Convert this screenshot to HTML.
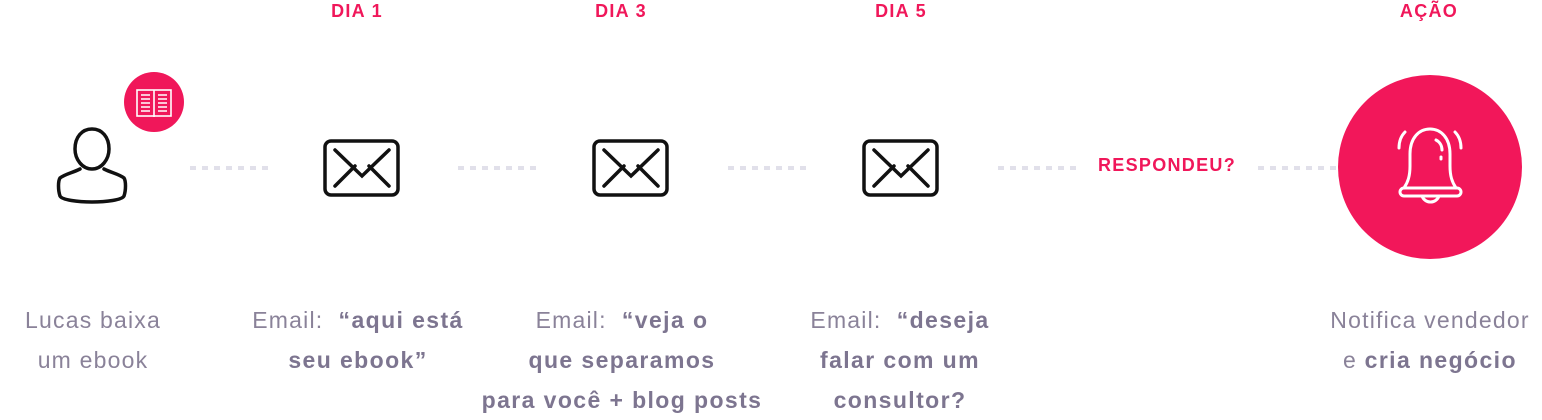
<!DOCTYPE html>
<html><head><meta charset="utf-8"><style>
body{margin:0;width:1542px;height:413px;background:#fff;position:relative;overflow:hidden;font-family:"Liberation Sans",sans-serif}
.h{position:absolute;top:1px;color:#f0175a;font-weight:bold;font-size:18px;letter-spacing:1.3px;transform:translateX(-50%);white-space:nowrap}
.t{position:absolute;top:300px;color:#8a8299;font-size:23px;line-height:40px;text-align:center;transform:translateX(-50%);white-space:nowrap;letter-spacing:1.2px}
.t b{color:#7d7590;letter-spacing:1.4px}
.d{position:absolute;top:166px;height:4px;background:repeating-linear-gradient(90deg,#e1e0ea 0 6px,transparent 6px 12px)}
</style></head><body>
<div class="h" style="left:357px">DIA 1</div>
<div class="h" style="left:621px">DIA 3</div>
<div class="h" style="left:901px">DIA 5</div>
<div class="h" style="left:1429px">AÇÃO</div>
<div class="d" style="left:190px;width:78px"></div>
<div class="d" style="left:458px;width:78px"></div>
<div class="d" style="left:728px;width:78px"></div>
<div class="d" style="left:998px;width:78px"></div>
<div class="d" style="left:1258px;width:78px"></div>
<div class="h" style="left:1167px;top:155px">RESPONDEU?</div>
<svg width="1542" height="413" style="position:absolute;left:0;top:0">
<circle cx="154" cy="102" r="30" fill="#f0175a"/>
<g stroke="#fff" stroke-width="1.6" fill="none"><rect x="137" y="90" width="34" height="26"/><line x1="154" y1="90" x2="154" y2="117"/>
<path d="M141 95h9M141 99h9M141 103h9M141 107h9M141 111h9M158 95h9M158 99h9M158 103h9M158 107h9M158 111h9"/></g>
<g stroke="#111" stroke-width="3.5" fill="none" stroke-linecap="round">
<path d="M92 129c-10 0-17 8-17 20c0 10 7 20 17 20c10 0 17-10 17-20c0-12-7-20-17-20z"/>
<path d="M80 169c-8 4-15 5-20 9c-2 3-2 12 0 18c2 4 18 6 32 6c14 0 30-2 32-6c2-6 2-15 0-18c-5-4-12-5-20-9"/>
</g>
<g stroke="#111" stroke-width="3.5" fill="none" stroke-linecap="round">
<rect x="325" y="141" width="73" height="54" rx="6"/><path d="M335 150l27 26l27-26M335 186l20-20M389 186l-20-20"/>
<rect x="594" y="141" width="73" height="54" rx="6"/><path d="M604 150l27 26l27-26M604 186l20-20M658 186l-20-20"/>
<rect x="864" y="141" width="73" height="54" rx="6"/><path d="M874 150l27 26l27-26M874 186l20-20M928 186l-20-20"/>
</g>
<circle cx="1430" cy="167" r="92" fill="#f2175a"/>
<g stroke="#fff" stroke-width="3" fill="none" stroke-linecap="round">
<path d="M1404 188c4-6 6-12 6-22v-12c0-16 9-25 20-25s20 9 20 25v12c0 10 2 16 6 22"/>
<rect x="1400" y="188" width="61" height="8" rx="4"/>
<path d="M1422 196a9 9 0 0 0 17 0"/>
<path d="M1436 140c4 2 6 6 6 10M1441 157v2"/>
<path d="M1405 132c-4 4-6 9-6 16M1455 132c4 4 6 9 6 16"/>
</g>
</svg>
<div class="t" style="left:93px">Lucas baixa<br>um ebook</div>
<div class="t" style="left:358px">Email:&nbsp; <b>“aqui está<br>seu ebook”</b></div>
<div class="t" style="left:622px">Email:&nbsp; <b>“veja o<br>que separamos<br>para você + blog posts</b></div>
<div class="t" style="left:900px">Email:&nbsp; <b>“deseja<br>falar com um<br>consultor?</b></div>
<div class="t" style="left:1430px">Notifica vendedor<br>e <b>cria negócio</b></div>
</body></html>
